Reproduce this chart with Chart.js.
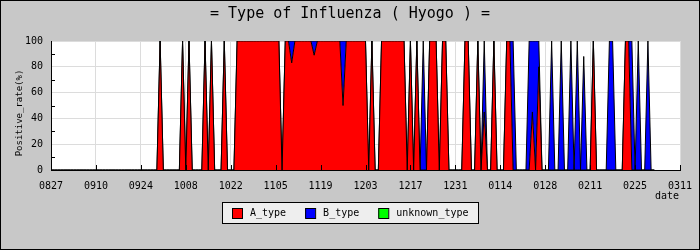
<!DOCTYPE html>
<html>
<head>
<meta charset="utf-8">
<script src="https://cdn.jsdelivr.net/npm/chart.js@4/dist/chart.umd.min.js"></script>
<style>
  html, body { margin: 0; padding: 0; background: #c8c8c8; }
  canvas { display: block; }
</style>
</head>
<body>
<canvas id="myChart" width="700" height="250"></canvas>
<script>
// tick labels every 14 days, x value = day count from 0827
const tickLabels = ['0827', '0910', '0924', '1008', '1022', '1105', '1119', '1203',
    '1217', '1231', '0114', '0128', '0211', '0225', '0311'];

// daily positive rate (%), one row = two weeks, starting at the tick label
const aType = [
    0, 0, 0, 0, 0, 0, 0, 0, 0, 0, 0, 0, 0, 0,                              // 0827
    0, 0, 0, 0, 0, 0, 0, 0, 0, 0, 0, 0, 0, 0,                              // 0910
    0, 0, 0, 0, 0, 0, 100, 0, 0, 0, 0, 0, 0, 100,                          // 0924
    0, 100, 0, 0, 0, 0, 100, 0, 100, 0, 0, 0, 100, 0,                      // 1008
    0, 0, 100, 100, 100, 100, 100, 100, 100, 100, 100, 100, 100, 100,      // 1022
    100, 100, 0, 100, 100, 83, 100, 100, 100, 100, 100, 100, 89, 100,      // 1105
    100, 100, 100, 100, 100, 100, 100, 50, 100, 100, 100, 100, 100, 100,   // 1119
    100, 0, 100, 0, 0, 100, 100, 100, 100, 100, 100, 100, 100, 0,          // 1203
    100, 0, 100, 0, 0, 0, 100, 100, 100, 0, 100, 100, 0, 0,                // 1217
    0, 0, 0, 100, 100, 0, 0, 100, 0, 45, 0, 0, 100, 0,                     // 1231
    0, 0, 100, 100, 0, 0, 0, 0, 0, 0, 45, 0, 80, 0,                        // 0114
    0, 0, 0, 0, 0, 0, 0, 0, 0, 0, 0, 0, 0, 0,                              // 0128
    0, 100, 0, 0, 0, 0, 0, 0, 0, 0, 0, 100, 100, 0,                        // 0211
    0, 0, 0, 0, 0, 0, 0                                                    // 0225
];
const bType = [
    0, 0, 0, 0, 0, 0, 0, 0, 0, 0, 0, 0, 0, 0,
    0, 0, 0, 0, 0, 0, 0, 0, 0, 0, 0, 0, 0, 0,
    0, 0, 0, 0, 0, 0, 0, 0, 0, 0, 0, 0, 0, 0,
    0, 0, 0, 0, 0, 0, 0, 0, 0, 0, 0, 0, 0, 0,
    0, 0, 0, 0, 0, 0, 0, 0, 0, 0, 0, 0, 0, 0,
    0, 0, 0, 0, 0, 17, 0, 0, 0, 0, 0, 0, 11, 0,
    0, 0, 0, 0, 0, 0, 0, 50, 0, 0, 0, 0, 0, 0,
    0, 0, 0, 0, 0, 0, 0, 0, 0, 0, 0, 0, 0, 0,
    0, 0, 0, 0, 100, 0, 0, 0, 0, 0, 0, 0, 0, 0,
    0, 0, 0, 0, 0, 0, 0, 0, 0, 55, 0, 0, 0, 0,
    0, 0, 0, 0, 100, 0, 0, 0, 0, 100, 55, 100, 20, 0,
    0, 0, 100, 0, 0, 100, 0, 0, 100, 0, 100, 0, 88, 0,
    0, 0, 0, 0, 0, 0, 100, 100, 0, 0, 0, 0, 0, 100,
    0, 100, 0, 0, 100, 0, 0
];
const unknownType = [];   // nothing reported

const FONT = "10px 'DejaVu Sans Mono', monospace";

const toPoints = arr => arr.map((v, i) => ({ x: i, y: v }));

// gray page, white plot, inward tick marks
const frame = {
    id: 'frame',
    beforeDraw(chart) {
        const ctx = chart.ctx, a = chart.chartArea;
        ctx.save();
        ctx.fillStyle = '#c8c8c8';
        ctx.fillRect(0, 0, chart.width, chart.height);
        ctx.fillStyle = '#ffffff';
        ctx.fillRect(a.left, a.top, a.right - a.left, a.bottom - a.top);
        ctx.restore();
    },
    afterDatasetsDraw(chart) {
        const ctx = chart.ctx, a = chart.chartArea;
        const xs = chart.scales.x, ys = chart.scales.y;
        ctx.save();
        ctx.strokeStyle = '#000';
        ctx.lineWidth = 1;
        ctx.beginPath();
        xs.ticks.forEach(t => {
            const px = Math.round(xs.getPixelForValue(t.value)) + 0.5;
            ctx.moveTo(px, a.bottom);
            ctx.lineTo(px, a.bottom - 5);
        });
        for (let v = 10; v < 100; v += 20) {
            const py = Math.round(ys.getPixelForValue(v)) + 0.5;
            ctx.moveTo(a.left, py);
            ctx.lineTo(a.left + 4, py);
        }
        ctx.stroke();
        ctx.restore();
    },
    afterDraw(chart) {
        const ctx = chart.ctx;
        ctx.save();
        ctx.fillStyle = '#000';

        // title
        ctx.font = "15px 'DejaVu Sans Mono', monospace";
        ctx.textAlign = 'center';
        ctx.textBaseline = 'middle';
        ctx.fillText('= Type of Influenza ( Hyogo ) =', 350, 14);

        // axis titles
        ctx.font = FONT;
        ctx.textAlign = 'right';
        ctx.fillText('date', 679, 196);
        ctx.save();
        ctx.translate(20, 113);
        ctx.rotate(-Math.PI / 2);
        ctx.textAlign = 'center';
        ctx.font = "9px 'DejaVu Sans Mono', monospace";
        ctx.fillText('Positive_rate(%)', 0, 0);
        ctx.restore();

        // legend box
        const items = chart.data.datasets.map(ds => ({
            label: ds.label, color: ds.backgroundColor, w: ctx.measureText(ds.label).width
        }));
        const box = 10, gap = 8, space = 19, pad = 10, h = 21;
        let total = space * (items.length - 1);
        items.forEach(it => { total += box + gap + it.w; });
        const w = Math.round(total + pad * 2);
        const left = Math.round(chart.width / 2 - w / 2), top = 202;
        ctx.fillStyle = '#eeeeee';
        ctx.fillRect(left, top, w, h);
        ctx.strokeStyle = '#000';
        ctx.lineWidth = 1;
        ctx.strokeRect(left + 0.5, top + 0.5, w, h);
        let x = left + pad;
        ctx.textAlign = 'left';
        ctx.textBaseline = 'middle';
        items.forEach(it => {
            ctx.fillStyle = it.color;
            ctx.fillRect(x, top + 6, box, box);
            ctx.strokeRect(x + 0.5, top + 6.5, box, box);
            ctx.fillStyle = '#000';
            ctx.fillText(it.label, x + box + gap, top + h / 2 + 1);
            x += box + gap + it.w + space;
        });

        // outer border
        ctx.strokeStyle = '#000';
        ctx.strokeRect(0.5, 0.5, chart.width - 1, chart.height - 1);
        ctx.restore();
    }
};

const ctx = document.getElementById('myChart').getContext('2d');
const chart = new Chart(ctx, {
    type: 'line',
    data: {
        datasets: [{
            label: 'A_type',
            data: toPoints(aType),
            backgroundColor: '#ff0000',
            borderColor: '#000000',
            fill: 'origin'
        }, {
            label: 'B_type',
            data: toPoints(bType),
            backgroundColor: '#0000ff',
            borderColor: '#000000',
            fill: '-1'
        }, {
            label: 'unknown_type',
            data: toPoints(unknownType),
            backgroundColor: '#00ff00',
            borderColor: '#000000',
            fill: '-1'
        }]
    },
    options: {
        responsive: false,
        animation: false,
        layout: { padding: { top: 41, right: 20, bottom: 0, left: 0 } },
        elements: {
            point: { radius: 0, hoverRadius: 0 },
            line: { tension: 0, borderWidth: 1 }
        },
        plugins: {
            legend: { display: false },
            title: { display: false },
            tooltip: { enabled: false }
        },
        scales: {
            x: {
                type: 'linear',
                min: 0,
                max: 196,
                afterFit: s => {
                    s.height = 80;
                    s.paddingLeft = 0;
                    s.paddingRight = 0;
                },
                ticks: {
                    stepSize: 14,
                    autoSkip: false,
                    maxRotation: 0,
                    padding: 10,
                    color: '#000',
                    font: { family: "'DejaVu Sans Mono', monospace", size: 10 },
                    callback: v => tickLabels[v / 14]
                },
                grid: { color: '#dcdcdc', drawTicks: false },
                border: { color: '#000', width: 1 }
            },
            y: {
                stacked: true,
                min: 0,
                max: 100,
                afterFit: s => {
                    s.width = 51;
                    s.paddingTop = 0;
                    s.paddingBottom = 0;
                },
                ticks: {
                    stepSize: 20,
                    padding: 8,
                    color: '#000',
                    font: { family: "'DejaVu Sans Mono', monospace", size: 10 }
                },
                grid: { color: '#dcdcdc', drawTicks: false },
                border: { color: '#000', width: 1 }
            }
        }
    },
    plugins: [frame]
});
</script>
</body>
</html>
